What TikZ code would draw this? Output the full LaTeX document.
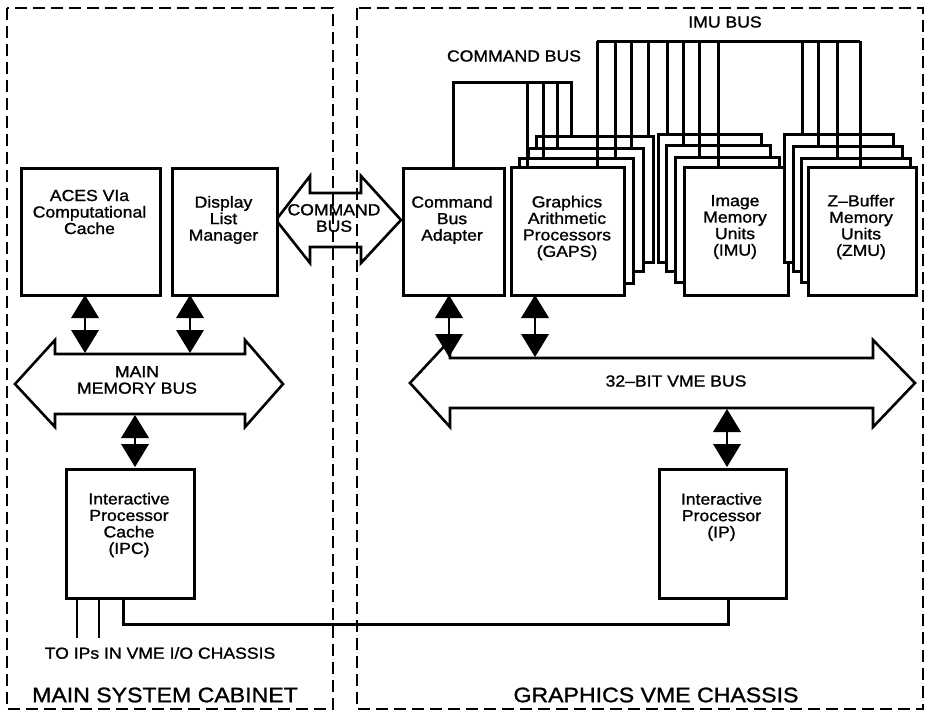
\documentclass[tikz,border=0pt]{standalone}
\usepackage{fontspec}
\setmainfont{Liberation Sans}
\newfontfamily\lblfont[FakeStretch=1.1,FakeBold=1.2]{Liberation Sans}
\usetikzlibrary{calc}
\newcommand\bx[5]{\node[box, anchor=north west, inner sep=0pt, minimum width={#4-#2}, minimum height={#5-#3}] (#1) at (#2,#3) {};}
\newcommand\bidir[2]{%
  \fill ($(#1)+(0,1)$) -- ++(-14,23) -- ++(28,0) -- cycle;
  \fill ($(#2)+(0,-1)$) -- ++(-14,-23) -- ++(28,0) -- cycle;
  \draw[line width=2.2pt] ($(#1)+(0,20)$) -- ($(#2)+(0,-20)$);}
\begin{document}
\begin{tikzpicture}[x=1pt,y=-1pt,
  box/.style={draw, line width=2.5pt, fill=white},
  bus/.style={line width=3pt},
  frame/.style={line width=2.3pt, dash pattern=on 12pt off 6pt},
  txt/.style={font=\lblfont\fontsize{16}{16.5}\selectfont, align=center, inner sep=0pt},
  big/.style={font=\lblfont\fontsize{21}{24}\selectfont, inner sep=0pt},
  barrow/.style={line width=2.6pt, line join=miter},
]
\useasboundingbox (0,0) rectangle (931,713);
\fill[white] (0,0) rectangle (931,713);
% frames
\draw[frame] (7,8) rectangle (333,709);
\draw[frame] (357,8) rectangle (923,709);
% block double arrows
\draw[barrow] (276,220) -- (310,176) -- (310,193) -- (361,193) -- (361,176) -- (401,220)
  -- (361,263) -- (361,247) -- (310,247) -- (310,263) -- cycle;
\draw[barrow] (15,384) -- (55,340) -- (55,354) -- (245,354) -- (245,340) -- (283,384)
  -- (245,427) -- (245,414) -- (55,414) -- (55,427) -- cycle;
\draw[barrow] (410,383) -- (450,340) -- (450,358) -- (873,358) -- (873,340) -- (915,383)
  -- (873,427) -- (873,408) -- (450,408) -- (450,427) -- cycle;
% main boxes
\bx{aces}{20}{167}{159}{294}
\bx{dlm}{171}{167}{276}{294}
\bx{cba}{402}{167}{503}{294}
% GAPS stack
\bx{gapsC}{535}{135}{652}{261}
\bx{gapsB}{527}{147}{642}{270}
\bx{gapsA}{518}{157}{632}{282}
\bx{gapsF}{510}{166}{623}{294}
% IMU stack
\bx{imuC}{657}{133}{760}{261}
\bx{imuB}{665}{144}{769}{270}
\bx{imuA}{674}{156}{778}{281}
\bx{imuF}{683}{166}{787}{294}
% ZMU stack
\bx{zmuC}{783}{133}{892}{261}
\bx{zmuB}{792}{145}{901}{270}
\bx{zmuA}{800}{157}{909}{281}
\bx{zmuF}{807}{166}{915}{294}
% lower boxes
\bx{ipc}{65}{468}{193}{597}
\bx{ip}{658}{468}{785}{597}
% IMU bus
\draw[bus] (597,41) -- (860,41);
\foreach \x/\n in {597/gapsF,615/gapsA,631/gapsB,648/gapsC,667/imuC,683/imuB,699/imuA,718/imuF,802/zmuC,818/zmuB,837/zmuA,860/zmuF}{
  \coordinate (t) at (\x,41);
  \draw[bus] (t) -- (t |- \n.north);
}
% command bus
\coordinate (cb) at (571,82);
\draw[bus] (cba.north) |- (cb) -- (cb |- gapsC.north);
\foreach \x/\n in {527/gapsF,543/gapsA,557/gapsB}{
  \coordinate (t) at (\x,82);
  \draw[bus] (t) -- (t |- \n.north);
}
% IPC to IP link and external lines
\draw[bus] ($(ipc.south west)+(58,0)$) -- ++(0,25) -| ($(ip.south)+(5.5,0)$);
\draw[line width=2.2pt] ($(ipc.south west)+(12,0)$) -- ++(0,38);
\draw[line width=2.2pt] ($(ipc.south west)+(34,0)$) -- ++(0,38);
% bidirectional arrows
\coordinate (a1) at (85,294);   \coordinate (a2) at (85,354);
\coordinate (d1) at (190,294);  \coordinate (d2) at (190,354);
\coordinate (m1) at (135,414);  \coordinate (m2) at (135,468);
\coordinate (c1) at (449,294);  \coordinate (c2) at (449,358);
\coordinate (g1) at (535,294);  \coordinate (g2) at (535,358);
\coordinate (v1) at (727,408);  \coordinate (v2) at (727,468);
\bidir{a1}{a2}
\bidir{d1}{d2}
\bidir{m1}{m2}
\bidir{c1}{c2}
\bidir{g1}{g2}
\bidir{v1}{v2}
% texts
\node[txt] (acesT) at (89.5,212) {ACES VIa\\Computational\\Cache};
\node[txt] (dlmT) at (223.5,220) {Display\\List\\Manager};
\node[txt] (cbaT) at (452,220) {Command\\Bus\\Adapter};
\node[txt] (gapsT) at (567,228) {Graphics\\Arithmetic\\Processors\\(GAPS)};
\node[txt] (imuT) at (735,227) {Image\\Memory\\Units\\(IMU)};
\node[txt] (zmuT) at (861,227) {Z–Buffer\\Memory\\Units\\(ZMU)};
\node[txt] (ipcT) at (129,525) {Interactive\\Processor\\Cache\\(IPC)};
\node[txt] (ipT) at (721.5,517) {Interactive\\Processor\\(IP)};
\node[txt] (cmdT) at (334,218) {COMMAND\\BUS};
\node[txt] (mmbT) at (137,380) {MAIN\\MEMORY BUS};
\node[txt] (vmeT) at (676,381) {32–BIT VME BUS};
\node[txt] (cbusT) at (514,56) {COMMAND BUS};
\node[txt] (ibusT) at (725,22) {IMU BUS};
\node[txt] (toT) at (160,653) {TO IPs IN VME I/O CHASSIS};
\node[big] (mscT) at (165,695) {MAIN SYSTEM CABINET};
\node[big] (gvcT) at (656,695) {GRAPHICS VME CHASSIS};
\end{tikzpicture}
\end{document}
